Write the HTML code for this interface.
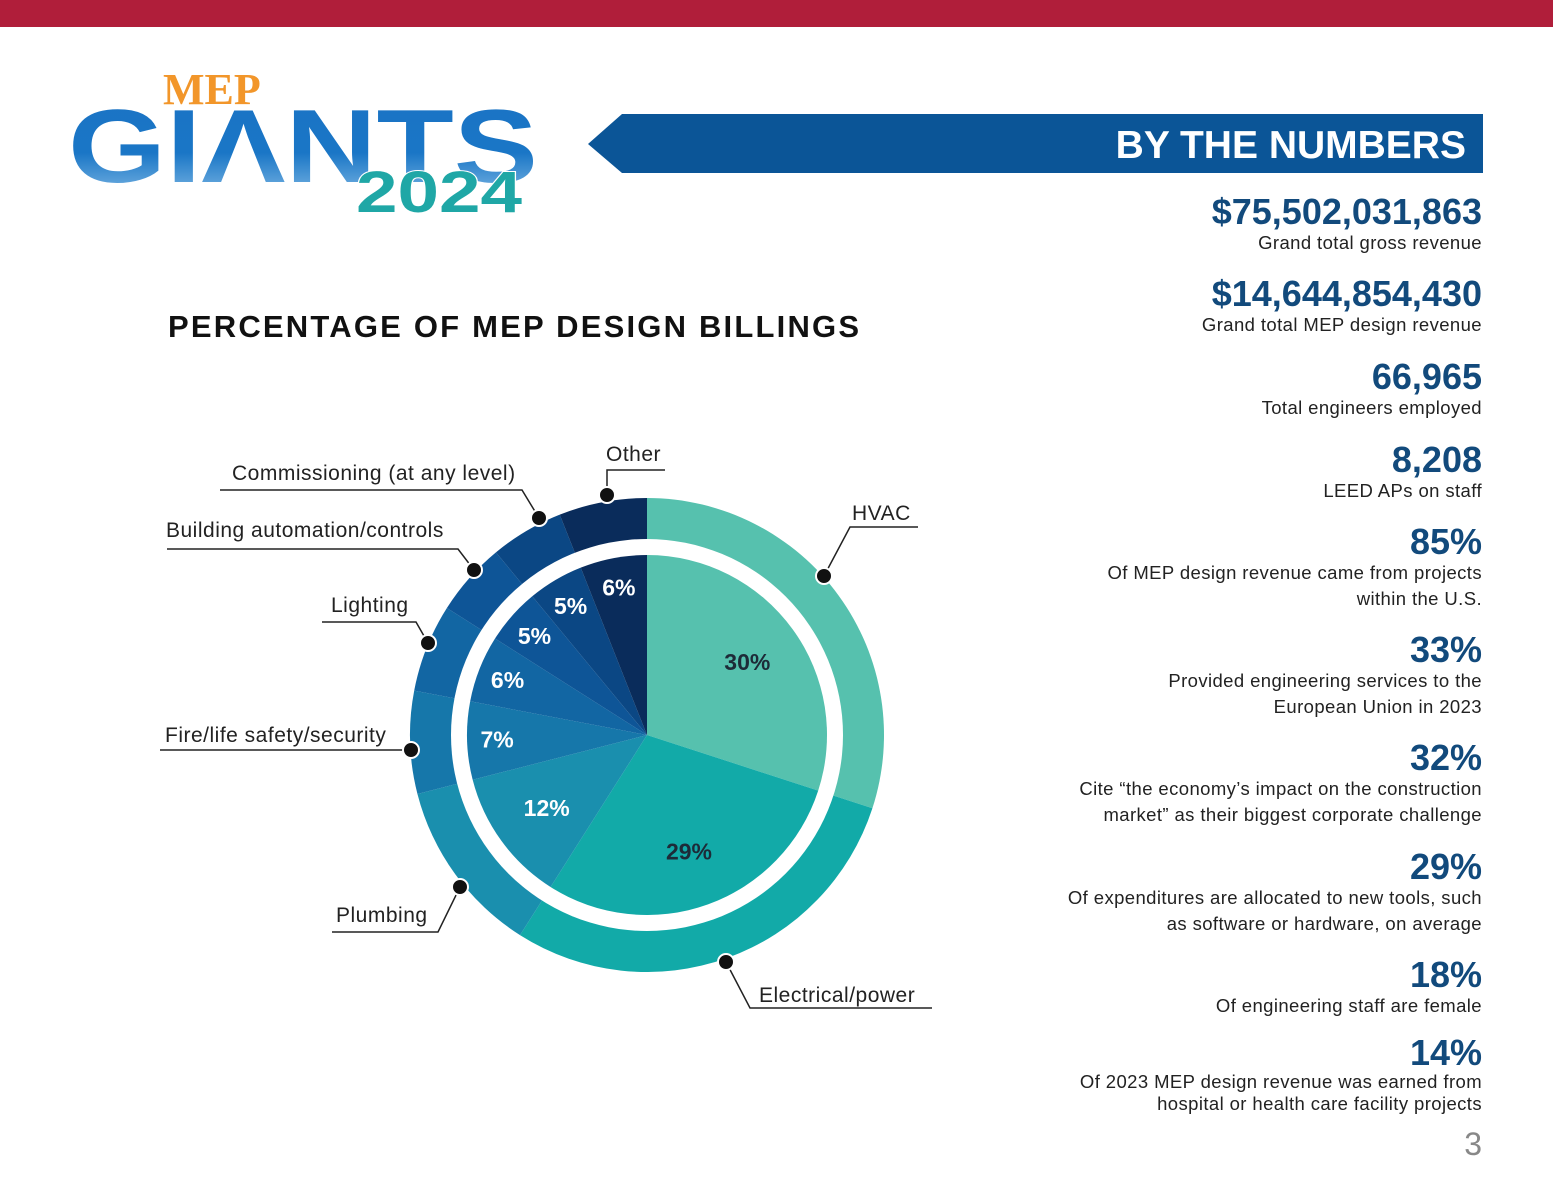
<!DOCTYPE html>
<html><head><meta charset="utf-8"><style>
body{margin:0;width:1553px;height:1200px;background:#fff;position:relative;overflow:hidden;font-family:"Liberation Sans",sans-serif}
.abs{position:absolute}
.stat{position:absolute;right:71px;text-align:right;color:#222}
.stat b{display:block;color:#124a7c;font-size:36px;font-weight:bold;line-height:36px}
.stat span{display:block;font-size:18.5px;line-height:26px;letter-spacing:0.4px}
</style></head><body>
<div class="abs" style="left:0;top:0;width:1553px;height:27px;background:#b01e3a"></div>
<svg class="abs" style="left:60px;top:60px" width="500" height="170">
<defs><linearGradient id="g" x1="0" y1="0" x2="0" y2="1"><stop offset="0" stop-color="#1b73c4"/><stop offset=".55" stop-color="#1a76c6"/><stop offset="1" stop-color="#8bc0e8"/></linearGradient></defs>
<text x="103" y="44" font-family="Liberation Serif" font-weight="bold" font-size="44" fill="#f2962a">MEP</text>
<text x="8" y="122" font-family="Liberation Sans" font-weight="bold" font-size="104" fill="url(#g)" textLength="470" lengthAdjust="spacingAndGlyphs">GIΛNTS</text>
<text x="296" y="152" font-family="Liberation Sans" font-weight="bold" font-size="58" fill="#1fa7a6" stroke="#fff" stroke-width="2" paint-order="stroke" textLength="166" lengthAdjust="spacingAndGlyphs">2024</text>
</svg>
<svg class="abs" style="left:588px;top:114px" width="895" height="60">
<polygon points="34,0 895,0 895,59 34,59 0,30" fill="#0b5597"/>
<text x="878" y="44" text-anchor="end" font-family="Liberation Sans" font-weight="bold" font-size="39" fill="#fff">BY THE NUMBERS</text>
</svg>
<div class="abs" style="left:168px;top:309px;font-size:31px;font-weight:bold;color:#111;letter-spacing:2.2px">PERCENTAGE OF MEP DESIGN BILLINGS</div>
<div class="stat" style="top:194px"><b>$75,502,031,863</b><span>Grand total gross revenue</span></div>
<div class="stat" style="top:276px"><b>$14,644,854,430</b><span>Grand total MEP design revenue</span></div>
<div class="stat" style="top:359px"><b>66,965</b><span>Total engineers employed</span></div>
<div class="stat" style="top:442px"><b>8,208</b><span>LEED APs on staff</span></div>
<div class="stat" style="top:524px"><b>85%</b><span>Of MEP design revenue came from projects<br>within the U.S.</span></div>
<div class="stat" style="top:632px"><b>33%</b><span>Provided engineering services to the<br>European Union in 2023</span></div>
<div class="stat" style="top:740px"><b>32%</b><span>Cite “the economy’s impact on the construction<br>market” as their biggest corporate challenge</span></div>
<div class="stat" style="top:849px"><b>29%</b><span>Of expenditures are allocated to new tools, such<br>as software or hardware, on average</span></div>
<div class="stat" style="top:957px"><b>18%</b><span>Of engineering staff are female</span></div>
<div class="stat" style="top:1035px"><b>14%</b><span style="line-height:22px">Of 2023 MEP design revenue was earned from<br>hospital or health care facility projects</span></div>
<div class="abs" style="right:71px;top:1126px;font-size:32px;color:#888">3</div>
<svg id="pie" class="abs" style="left:0;top:0" width="1553" height="1200"></svg>
<script>
const categories=["HVAC","Electrical/power","Plumbing","Fire/life safety/security","Lighting","Building automation/controls","Commissioning (at any level)","Other"];
const values=[30,29,12,7,6,5,5,6];
const valueLabels=["30%","29%","12%","7%","6%","5%","5%","6%"];
const colors=["#56c1ae","#12aaa8","#1a8fae","#1677aa","#1266a3","#0e5597","#0b4784","#0a2c5b"];
const svg=document.getElementById('pie');const NS="http://www.w3.org/2000/svg";
const cx=647,cy=735,rIn=180,rGap=196,rOut=237;
const total=values.reduce((a,b)=>a+b,0);
function ang(v){return v/total*2*Math.PI-Math.PI/2;}
function pt(a,r){return [cx+r*Math.cos(a),cy+r*Math.sin(a)];}
function mk(t,attrs){const e=document.createElementNS(NS,t);for(const k in attrs)e.setAttribute(k,attrs[k]);svg.appendChild(e);return e;}
let acc=0;
values.forEach((v,i)=>{
 const a0=ang(acc),a1=ang(acc+v);acc+=v;const large=(a1-a0)>Math.PI?1:0;
 const [x0,y0]=pt(a0,rOut),[x1,y1]=pt(a1,rOut);
 const ring=mk('path',{d:`M${cx},${cy}L${x0},${y0}A${rOut},${rOut} 0 ${large} 1 ${x1},${y1}Z`,fill:colors[i]});
 
 
});
const gap=mk('circle',{cx:cx,cy:cy,r:rGap,fill:'#fff'});


acc=0;
values.forEach((v,i)=>{
 const a0=ang(acc),a1=ang(acc+v);acc+=v;const large=(a1-a0)>Math.PI?1:0;
 const [x0,y0]=pt(a0,rIn),[x1,y1]=pt(a1,rIn);
 const s=mk('path',{d:`M${cx},${cy}L${x0},${y0}A${rIn},${rIn} 0 ${large} 1 ${x1},${y1}Z`,fill:colors[i]});
 
 
 const am=(a0+a1)/2,r=v<10?150:124;const [lx,ly]=pt(am,r);
 const t=mk('text',{x:lx,y:ly+8,'text-anchor':'middle','font-size':23,'font-weight':'bold',fill:i<2?'#1d2b38':'#fff','font-family':'Liberation Sans'});
 t.textContent=valueLabels[i];
 
 
});
const callouts=[
 [824,576,[[850,527],[918,527]],852,520],
 [726,962,[[750,1008],[932,1008]],759,1002],
 [460,887,[[438,932],[332,932]],336,922],
 [411,750,[[400,750],[160,750]],165,742],
 [428,643,[[416,622],[322,622]],331,612],
 [474,570,[[458,549],[167,549]],166,537],
 [539,518,[[522,490],[220,490]],232,480],
 [607,495,[[607,470],[665,470]],606,461]];
callouts.forEach((c,i)=>{
 const p=[[c[0],c[1]],...c[2]].map(q=>q.join(',')).join(' ');
 const l=mk('polyline',{points:p,fill:'none',stroke:'#222','stroke-width':1.5});
 
 
 const d=mk('circle',{cx:c[0],cy:c[1],r:8,fill:'#111',stroke:'#fff','stroke-width':2});
 
 
 const t=mk('text',{x:c[3],y:c[4],'font-size':21,fill:'#222','font-family':'Liberation Sans','letter-spacing':0.5});
 t.textContent=categories[i];
 
 
});
</script>
</body></html>
